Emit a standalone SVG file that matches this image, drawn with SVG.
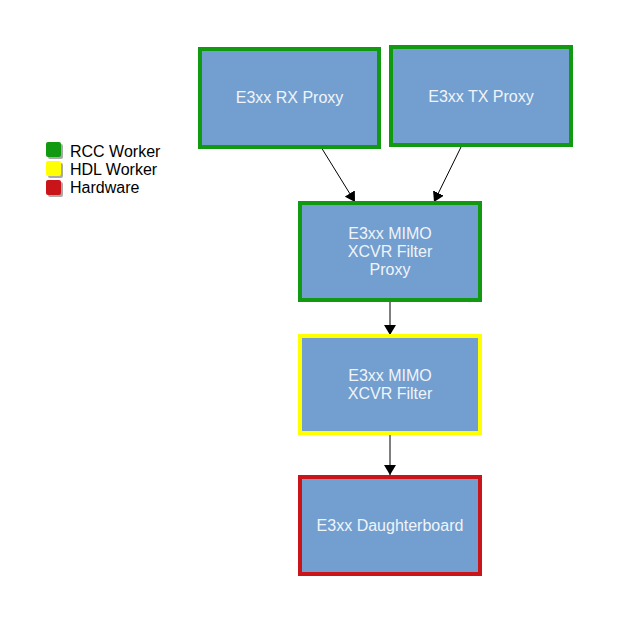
<svg xmlns="http://www.w3.org/2000/svg" width="624" height="624" viewBox="0 0 624 624">
<defs>
<marker id="ah" markerWidth="10" markerHeight="12" refX="10" refY="6" orient="auto" markerUnits="userSpaceOnUse">
<path d="M0,0 L10,6 L0,12 z" fill="#000"/>
</marker>
<style>
.box{fill:#729fcf;stroke-width:4}
.g{stroke:#119a11}
.y{stroke:#ffff00}
.r{stroke:#c9141a}
.t{font-family:"Liberation Sans",Arial,sans-serif;font-size:16px;fill:#f0f4fa;text-anchor:middle}
.lt{font-family:"Liberation Sans",Arial,sans-serif;font-size:16px;fill:#000}
.c{stroke:#000;stroke-width:1;fill:none;marker-end:url(#ah)}
</style>
</defs>
<rect width="624" height="624" fill="#fff"/>
<g id="legend">
<rect x="48" y="144" width="15" height="15" fill="#aaa" rx="2"/>
<rect x="46" y="142" width="15" height="15" fill="#119a11" rx="2"/>
<rect x="48" y="163" width="15" height="15" fill="#aaa" rx="2"/>
<rect x="46" y="161" width="15" height="15" fill="#ffff00" rx="2"/>
<rect x="48" y="182" width="15" height="15" fill="#aaa" rx="2"/>
<rect x="46" y="180" width="15" height="15" fill="#c9141a" rx="2"/>
<text class="lt" x="70" y="157">RCC Worker</text>
<text class="lt" x="70" y="175">HDL Worker</text>
<text class="lt" x="70" y="193">Hardware</text>
</g>
<g id="connectors">
<line class="c" x1="321" y1="147" x2="355" y2="202"/>
<line class="c" x1="462" y1="145" x2="434" y2="202"/>
<line class="c" x1="390" y1="300" x2="390" y2="335"/>
<line class="c" x1="390" y1="433" x2="390" y2="475"/>
</g>
<g id="rx">
<rect class="box g" x="200" y="49" width="179" height="98"/>
<text class="t" x="289.5" y="103">E3xx RX Proxy</text>
</g>
<g id="tx">
<rect class="box g" x="391" y="47" width="180" height="98"/>
<text class="t" x="481" y="102">E3xx TX Proxy</text>
</g>
<g id="mimoproxy">
<rect class="box g" x="300" y="203" width="180" height="97"/>
<text class="t" x="390" y="239">E3xx MIMO</text>
<text class="t" x="390" y="257">XCVR Filter</text>
<text class="t" x="390" y="275">Proxy</text>
</g>
<g id="filter">
<rect class="box y" x="300" y="336" width="180" height="97"/>
<text class="t" x="390" y="381">E3xx MIMO</text>
<text class="t" x="390" y="399">XCVR Filter</text>
</g>
<g id="daughterboard">
<rect class="box r" x="300" y="477" width="180" height="97"/>
<text class="t" x="390" y="531">E3xx Daughterboard</text>
</g>
</svg>
